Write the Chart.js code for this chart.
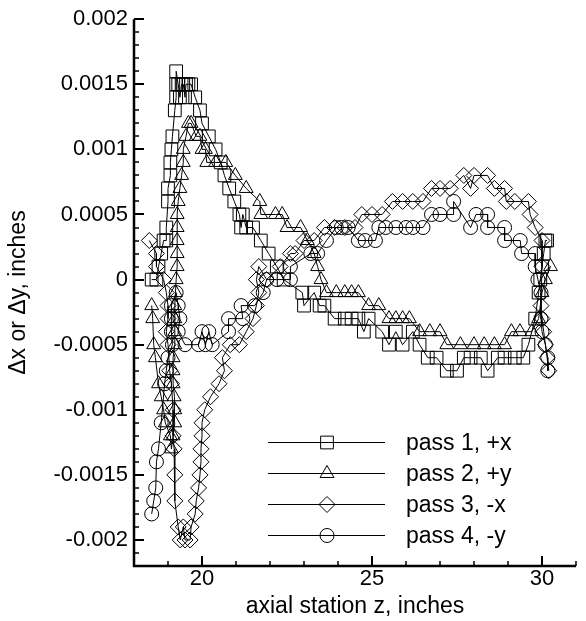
<!DOCTYPE html>
<html>
<head>
<meta charset="utf-8">
<script src="https://cdn.jsdelivr.net/npm/chart.js@4/dist/chart.umd.min.js"></script>
<style>
  html, body { margin: 0; padding: 0; background: #fff; }
</style>
</head>
<body>
<canvas id="chart" width="586" height="621"></canvas>
<script>
// axis ticks
const xTicks = [20, 25, 30];
const yTicks = [0.002, 0.0015, 0.001, 0.0005, 0, -0.0005, -0.001, -0.0015, -0.002];

const seriesNames = ["pass 1, +x", "pass 2, +y", "pass 3, -x", "pass 4, -y"];
const seriesMarkers = ["rect", "triangle", "rectRot", "circle"];

const pass1 = [
  [18.52, 0], [18.66, 0], [18.72, 0.0001], [18.80, 0.0002], [18.87, 0.0003], [18.95, 0.0003],
  [18.95, 0.0004], [19.00, 0.0006], [19.00, 0.0007], [19.07, 0.0008], [19.07, 0.0009], [19.10, 0.0010],
  [19.13, 0.0011], [19.20, 0.0013], [19.24, 0.0014], [19.24, 0.0015], [19.24, 0.0016], [19.30, 0.0015],
  [19.35, 0.0014], [19.40, 0.0015], [19.45, 0.0015], [19.50, 0.0014], [19.53, 0.0015], [19.60, 0.0015],
  [19.68, 0.0015], [19.80, 0.0014], [19.94, 0.0013], [20.00, 0.0012], [20.20, 0.0011], [20.40, 0.0010],
  [20.55, 0.0009], [20.66, 0.0008], [20.80, 0.0007], [20.95, 0.0006], [21.10, 0.0005], [21.15, 0.0004],
  [21.20, 0.0005], [21.30, 0.0004], [21.50, 0.0004], [21.73, 0.0003], [21.96, 0.0002], [22.20, 0.0001],
  [22.40, 0], [22.95, -0.0001], [23.00, -0.0002], [23.30, -0.0001], [23.46, -0.0002], [23.60, -0.0002],
  [23.90, -0.0003], [24.20, -0.0003], [24.40, -0.0003], [24.60, -0.0003], [24.76, -0.0004], [24.90, -0.0003],
  [25.30, -0.0004], [25.50, -0.0005], [25.70, -0.0004], [25.90, -0.0005], [26.20, -0.0004], [26.40, -0.0005],
  [26.64, -0.0006], [26.90, -0.0006], [27.20, -0.0007], [27.50, -0.0007], [27.70, -0.0006], [27.90, -0.0006],
  [28.20, -0.0006], [28.40, -0.0007], [28.70, -0.0006], [28.90, -0.0006], [29.20, -0.0006], [29.45, -0.0006],
  [29.60, -0.0005], [29.80, -0.0003], [29.90, -0.0001], [29.95, 0], [30.00, 0.0001], [30.05, 0.0002],
  [30.10, 0.0003], [30.15, 0.0003]
];

const pass2 = [
  [18.52, -0.0002], [18.55, -0.0003], [18.58, -0.0005], [18.63, -0.0006], [18.72, -0.0008], [18.80, -0.0009],
  [18.87, -0.0010], [18.92, -0.0011], [19.07, -0.0012], [19.10, -0.0013], [19.15, -0.0012], [19.20, -0.0011],
  [19.20, -0.0010], [19.18, -0.0009], [19.15, -0.0008], [19.15, -0.0007], [19.15, -0.0006], [19.20, -0.0005],
  [19.20, -0.0004], [19.20, -0.0003], [19.20, -0.0002], [19.22, -0.0001], [19.24, 0], [19.27, 0.0001],
  [19.27, 0.0002], [19.27, 0.0003], [19.27, 0.0004], [19.27, 0.0005], [19.30, 0.0006], [19.35, 0.0007],
  [19.40, 0.0008], [19.45, 0.0009], [19.45, 0.0010], [19.53, 0.0011], [19.60, 0.0012], [19.68, 0.0012],
  [19.83, 0.0011], [19.94, 0.0011], [20.00, 0.0010], [20.10, 0.0010], [20.14, 0.0009], [20.40, 0.0009],
  [20.70, 0.0009], [20.98, 0.0008], [21.30, 0.0007], [21.70, 0.0006], [21.73, 0.0005], [22.16, 0.0005],
  [22.36, 0.0005], [22.50, 0.0004], [22.90, 0.0004], [23.10, 0.0003], [23.30, 0.0002], [23.40, 0.0001],
  [23.50, 0], [23.66, -0.0001], [23.95, -0.0001], [24.20, -0.0001], [24.40, -0.0001], [24.60, -0.0001],
  [24.90, -0.0002], [25.20, -0.0002], [25.50, -0.0003], [25.70, -0.0003], [25.90, -0.0003], [26.10, -0.0003],
  [26.40, -0.0004], [26.70, -0.0004], [27.00, -0.0004], [27.20, -0.0005], [27.60, -0.0005], [28.00, -0.0005],
  [28.30, -0.0005], [28.60, -0.0005], [28.90, -0.0005], [29.10, -0.0004], [29.35, -0.0004], [29.70, -0.0004],
  [29.90, -0.0003], [30.00, -0.0001], [30.10, 0], [30.25, 0.0001]
];

const pass3 = [
  [18.45, 0.0003], [18.66, 0.0002], [18.66, 0.0001], [18.87, 0], [18.95, -0.0001], [19.00, -0.0002],
  [19.00, -0.0003], [18.95, -0.0004], [19.00, -0.0005], [19.05, -0.0007], [19.10, -0.0008], [19.15, -0.0010],
  [19.15, -0.0012], [19.18, -0.0013], [19.20, -0.0015], [19.20, -0.0017], [19.30, -0.0019], [19.36, -0.0020],
  [19.45, -0.0019], [19.50, -0.0020], [19.65, -0.0020], [19.68, -0.0019], [19.80, -0.0018], [19.83, -0.0017],
  [19.90, -0.0016], [19.94, -0.0015], [19.97, -0.0014], [19.97, -0.0013], [20.00, -0.0012], [20.00, -0.0011],
  [20.08, -0.0010], [20.25, -0.0009], [20.50, -0.0008], [20.66, -0.0007], [20.60, -0.0006], [20.83, -0.0005],
  [21.10, -0.0005], [21.30, -0.0004], [21.50, -0.0003], [21.60, -0.0002], [21.67, -0.0001], [21.60, 0],
  [21.67, 0.0001], [21.90, 0], [22.30, 0.0001], [22.60, 0.0002], [22.74, 0.0002], [23.00, 0.0003],
  [23.30, 0.0003], [23.60, 0.0004], [23.90, 0.0004], [24.20, 0.0004], [24.50, 0.0004], [24.70, 0.0005],
  [25.00, 0.0005], [25.30, 0.0005], [25.60, 0.0006], [25.90, 0.0006], [26.20, 0.0006], [26.50, 0.0006],
  [26.75, 0.0007], [27.00, 0.0007], [27.30, 0.0007], [27.70, 0.0008], [27.90, 0.0007], [28.00, 0.0008],
  [28.40, 0.0008], [28.60, 0.0007], [28.90, 0.0007], [28.95, 0.0006], [29.20, 0.0006], [29.60, 0.0006],
  [29.65, 0.0005], [29.80, 0.0004], [30.00, 0.0003], [30.00, 0.0001], [29.97, -0.0002], [30.00, -0.0003],
  [30.05, -0.0004], [30.10, -0.0005], [30.15, -0.0006], [30.20, -0.0007]
];

const pass4 = [
  [18.52, -0.0018], [18.58, -0.0017], [18.64, -0.0016], [18.66, -0.0014], [18.72, -0.0013], [18.80, -0.0011],
  [18.90, -0.0008], [18.95, -0.0007], [19.00, -0.0006], [19.13, -0.0005], [19.10, -0.0004], [19.10, -0.0003],
  [19.10, -0.0002], [19.24, -0.0001], [19.30, -0.0002], [19.35, -0.0003], [19.30, -0.0004], [19.50, -0.0005],
  [19.90, -0.0005], [20.00, -0.0004], [20.10, -0.0005], [20.20, -0.0004], [20.30, -0.0005], [20.78, -0.0004],
  [20.78, -0.0003], [21.20, -0.0003], [21.15, -0.0002], [21.55, -0.0002], [21.80, -0.0001], [21.90, 0],
  [22.20, 0], [22.60, 0], [22.60, 0.0001], [23.20, 0.0002], [23.40, 0.0002], [23.66, 0.0003],
  [23.95, 0.0004], [24.10, 0.0004], [24.30, 0.0004], [24.60, 0.0003], [24.80, 0.0003], [25.10, 0.0003],
  [25.20, 0.0004], [25.40, 0.0004], [25.70, 0.0004], [26.00, 0.0004], [26.20, 0.0004], [26.50, 0.0004],
  [26.75, 0.0005], [27.00, 0.0005], [27.40, 0.0005], [27.40, 0.0006], [27.90, 0.0004], [28.06, 0.0005],
  [28.40, 0.0005], [28.40, 0.0004], [28.90, 0.0004], [28.90, 0.0003], [29.36, 0.0003], [29.40, 0.0002],
  [29.80, 0.0002], [29.80, 0.0001], [29.88, 0], [29.97, -0.0001], [29.97, -0.0003], [30.00, -0.0004],
  [30.10, -0.0005], [30.17, -0.0006], [30.17, -0.0007]
];

const markerSizes = [9, 8, 8, 7];
const FONT = "'Liberation Sans', Arial, Helvetica, sans-serif";

function toPoints(rows) {
  return rows.map(r => ({ x: r[0], y: r[1] }));
}

// draws open markers for the legend
function drawMarker(ctx, style, x, y, r) {
  ctx.beginPath();
  if (style === "rect") {
    const s = Math.SQRT1_2 * r;
    ctx.rect(x - s, y - s, 2 * s, 2 * s);
  } else if (style === "triangle") {
    ctx.moveTo(x, y - r);
    ctx.lineTo(x + Math.sin(2 * Math.PI / 3) * r, y - Math.cos(2 * Math.PI / 3) * r);
    ctx.lineTo(x + Math.sin(4 * Math.PI / 3) * r, y - Math.cos(4 * Math.PI / 3) * r);
    ctx.closePath();
  } else if (style === "rectRot") {
    ctx.moveTo(x - r, y);
    ctx.lineTo(x, y - r);
    ctx.lineTo(x + r, y);
    ctx.lineTo(x, y + r);
    ctx.closePath();
  } else {
    ctx.arc(x, y, r, 0, Math.PI * 2);
  }
  ctx.stroke();
}

// inward ticks + axis lines, Tecplot style
const axisPlugin = {
  id: "axisPlugin",
  afterDraw(chart) {
    const ctx = chart.ctx;
    const xs = chart.scales.x, ys = chart.scales.y;
    const a = chart.chartArea;
    ctx.save();
    ctx.strokeStyle = "#000";
    // minor ticks
    ctx.lineWidth = 1.5;
    ctx.beginPath();
    for (let v = 18; v <= 31.001; v += 1) {
      const px = Math.round(xs.getPixelForValue(v));
      ctx.moveTo(px, a.bottom);
      ctx.lineTo(px, a.bottom - 5);
    }
    for (let k = -22; k <= 20; k++) {
      const py = Math.round(ys.getPixelForValue(k * 0.0001));
      ctx.moveTo(a.left, py);
      ctx.lineTo(a.left + 5, py);
    }
    ctx.stroke();
    // major ticks
    ctx.lineWidth = 2;
    ctx.beginPath();
    xTicks.forEach(v => {
      const px = Math.round(xs.getPixelForValue(v));
      ctx.moveTo(px, a.bottom);
      ctx.lineTo(px, a.bottom - 10);
    });
    yTicks.forEach(v => {
      const py = Math.round(ys.getPixelForValue(v));
      ctx.moveTo(a.left, py);
      ctx.lineTo(a.left + 10, py);
    });
    ctx.stroke();
    // axis lines
    ctx.lineWidth = 2.5;
    ctx.beginPath();
    ctx.moveTo(a.left, a.top);
    ctx.lineTo(a.left, a.bottom);
    ctx.lineTo(a.right, a.bottom);
    ctx.stroke();

    // legend inside the plot
    const rowY = [442, 473, 504, 535];
    ctx.lineWidth = 1;
    ctx.font = "23px " + FONT;
    ctx.fillStyle = "#000";
    ctx.textBaseline = "middle";
    seriesNames.forEach((name, i) => {
      const y = rowY[i] + 0.5;
      ctx.beginPath();
      ctx.moveTo(268, y);
      ctx.lineTo(385, y);
      ctx.stroke();
      drawMarker(ctx, seriesMarkers[i], 327, y, markerSizes[i]);
      ctx.fillText(name, 406, y + 1);
    });
    ctx.restore();
  }
};

const allSeries = [pass1, pass2, pass3, pass4];

new Chart(document.getElementById("chart"), {
  type: "scatter",
  data: {
    datasets: allSeries.map((rows, i) => ({
      label: seriesNames[i],
      data: toPoints(rows),
      showLine: true,
      borderColor: "#000",
      borderWidth: 1,
      tension: 0,
      pointStyle: seriesMarkers[i],
      pointRadius: markerSizes[i],
      pointBorderWidth: 1,
      pointBorderColor: "#000",
      pointBackgroundColor: "rgba(0,0,0,0)"
    }))
  },
  options: {
    responsive: false,
    animation: false,
    devicePixelRatio: 1,
    layout: { padding: { left: 0, right: 2, top: 17, bottom: 0 } },
    plugins: {
      legend: { display: false },
      tooltip: { enabled: false }
    },
    scales: {
      x: {
        type: "linear",
        min: 18,
        max: 31,
        afterFit: s => { s.height = 55; },
        afterBuildTicks: s => { s.ticks = xTicks.map(v => ({ value: v })); },
        grid: { display: false, drawTicks: false },
        border: { display: false },
        ticks: { color: "#000", padding: 0, font: { family: FONT, size: 22 }, maxRotation: 0 },
        title: { display: true, text: "axial station z, inches", color: "#000", padding: { top: 0, bottom: 1 }, font: { family: FONT, size: 23 } }
      },
      y: {
        type: "linear",
        min: -0.0022,
        max: 0.002,
        afterFit: s => { s.width = 134; },
        afterBuildTicks: s => { s.ticks = yTicks.map(v => ({ value: v })); },
        grid: { display: false, drawTicks: false },
        border: { display: false },
        ticks: {
          color: "#000",
          padding: 6,
          font: { family: FONT, size: 22 },
          callback: v => String(Number(v.toFixed(4)))
        },
        title: { display: true, text: "Δx or Δy, inches", color: "#000", padding: { top: 5, bottom: 0 }, font: { family: FONT, size: 23 } }
      }
    }
  },
  plugins: [axisPlugin]
});
</script>
</body>
</html>
